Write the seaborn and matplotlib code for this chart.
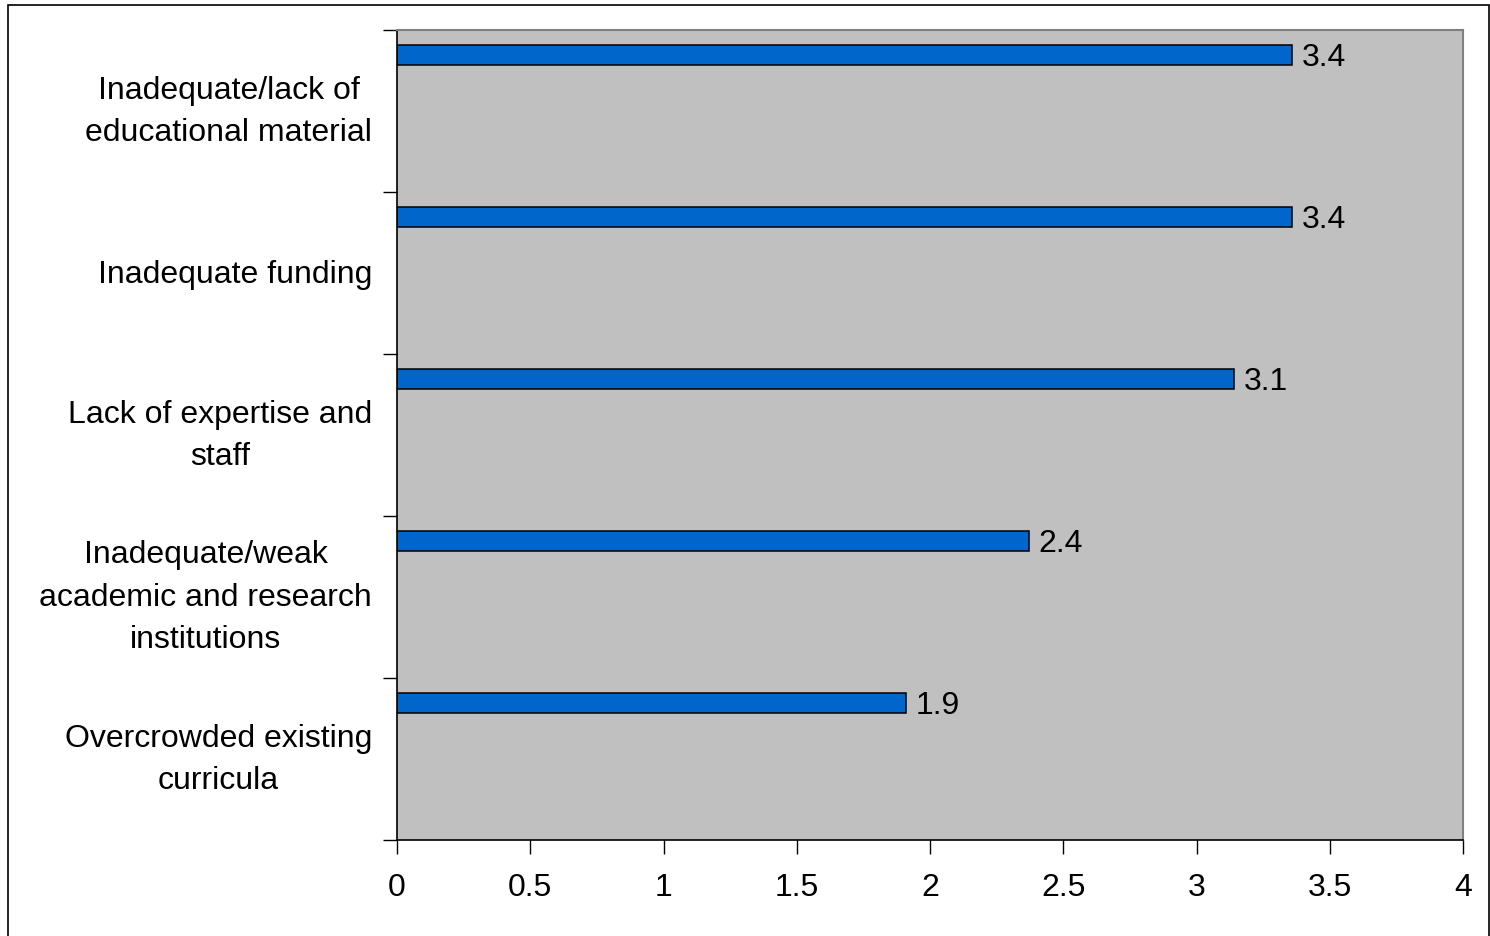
import matplotlib
matplotlib.use("Agg")
import matplotlib.pyplot as plt
from matplotlib.patches import Rectangle
from matplotlib.transforms import ScaledTranslation
import numpy as np
import pandas as pd
import seaborn as sns

# Constraints, listed top to bottom
categories = [
    "Inadequate/lack of\neducational material",
    "Inadequate funding",
    "Lack of expertise and\nstaff",
    "Inadequate/weak\nacademic and research\ninstitutions",
    "Overcrowded existing\ncurricula",
]
scores = [3.36, 3.36, 3.14, 2.37, 1.91]
x_ticks = [0, 0.5, 1, 1.5, 2, 2.5, 3, 3.5, 4]
x_tick_labels = ["0", "0.5", "1", "1.5", "2", "2.5", "3", "3.5", "4"]

sns.set_theme(style="white")
plt.rcParams["font.family"] = ["Liberation Sans", "DejaVu Sans"]
FS = 23

fig = plt.figure(figsize=(14.9, 9.36), dpi=100)
fig.patch.set_facecolor("white")
ax = fig.add_axes([397 / 1490, 1 - 840 / 936, (1463 - 397) / 1490, (840 - 30) / 936])

# Each bar sits in the upper part of its category band
band = np.arange(len(categories))
df = pd.DataFrame({"pos": band - 0.345, "score": scores})

sns.barplot(
    data=df, x="score", y="pos", orient="y", native_scale=True,
    width=0.124, color="#0066CC", saturation=1,
    edgecolor="black", linewidth=1.1, ax=ax, errorbar=None,
)

for cont in ax.containers:
    for t in ax.bar_label(cont, fmt="{:.1f}", padding=7, fontsize=FS, color="black"):
        t.set_va("center")
        t.xyann = (7, -2)

ax.set_facecolor("#C0C0C0")
ax.set_xlim(0, 4)
ax.set_ylim(len(categories) - 0.5, -0.5)

ax.set_xticks(x_ticks)
ax.set_xticklabels(x_tick_labels, fontsize=FS, color="black")
ax.set_yticks(band)
ax.set_yticklabels(categories, fontsize=FS, color="black",
                   multialignment="center", linespacing=1.55)
ax.set_yticks(np.arange(len(categories) + 1) - 0.5, minor=True)

ax.tick_params(axis="y", which="major", length=0, pad=18)
ax.tick_params(axis="y", which="minor", length=10, width=1, color="black",
               direction="out", left=True)
ax.tick_params(axis="x", which="major", length=10, width=1, color="black",
               direction="out", bottom=True, pad=14)
ax.set_xlabel("")
ax.set_ylabel("")
ax.grid(False)

# Lift wrapped category labels so each block is centred on its band
for lab, name in zip(ax.get_yticklabels(), categories):
    lift = 9 if "\n" in name else 2
    lab.set_transform(lab.get_transform() + ScaledTranslation(0, lift / 100, fig.dpi_scale_trans))

for side in ("left", "bottom"):
    ax.spines[side].set_color("black")
    ax.spines[side].set_linewidth(1.2)
for side in ("top", "right"):
    ax.spines[side].set_color("#808080")
    ax.spines[side].set_linewidth(1.5)
    ax.spines[side].set_visible(True)

# Chart frame
fig.patches.append(Rectangle((8 / 1490, -0.05), (1489 - 8) / 1490, 1 - 5 / 936 + 0.05,
                             transform=fig.transFigure, fill=False,
                             edgecolor="black", linewidth=1.2))

fig.savefig("out.png", dpi=100)
